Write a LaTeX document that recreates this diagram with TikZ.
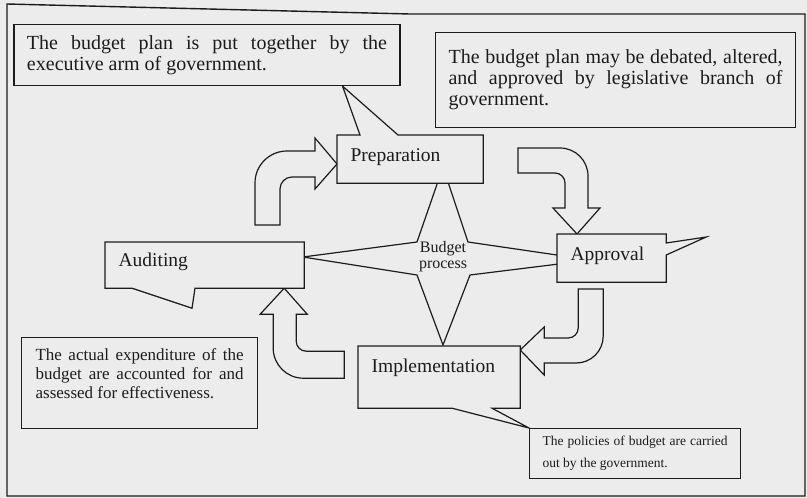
\documentclass[tikz,border=0pt]{standalone}
\usepackage{fontspec}
\setmainfont{Liberation Serif}
\usetikzlibrary{calc, backgrounds}
\definecolor{PaperGrey}{RGB}{236, 236, 236}
\definecolor{InkBlack}{RGB}{28, 28, 28}
\hyphenpenalty=10000
\exhyphenpenalty=10000
\tolerance=9999

\begin{document}
\begin{tikzpicture}[x=1pt, y=-1pt, color=InkBlack, line width=1.2pt,
    every on background layer/.style={color=InkBlack, line width=1.2pt},
    stage/.style={anchor=north west, inner xsep=13pt, inner ysep=0pt, align=left,
        text height=26pt, text depth=21pt, font={\fontsize{19.5}{21}\selectfont}},
    note/.style={draw=InkBlack, fill=PaperGrey, inner xsep=13pt, inner ysep=8pt},
    blockarrow/.style={fill=PaperGrey, line join=miter}]

    % the four stages of the cycle
    \node[stage, text width=119pt] (prep) at (337,135) {Preparation};
    \node[stage, text width=82pt] (appr) at (557,234) {Approval};
    \node[stage, text width=172pt, text height=24pt] (aud) at (105,242) {Auditing};
    \node[stage, text width=135pt, text depth=35pt] (impl) at (358,346) {Implementation};
    \node[align=center, font={\fontsize{16}{16}\selectfont}] (hub) at (443,257) {Budget\\process};

    % explanations
    \node[note] (planNote) at (207,55) {
        \begin{minipage}[c][45pt][c]{360pt}
            \fontsize{20}{21}\selectfont
            The budget plan is put together by the executive arm of government.
        \end{minipage}
    };
    \node[note, anchor=north west] (approveNote) at (435,32) {
        \begin{minipage}[c][79pt][c]{334pt}
            \fontsize{20}{21}\selectfont
            The budget plan may be debated, altered, and approved by legislative branch of government.
        \end{minipage}
    };
    \node[note, anchor=north west, inner xsep=14pt, inner ysep=11pt] (auditNote) at (21,337) {
        \begin{minipage}[c][69pt][t]{208pt}
            \fontsize{17}{19}\selectfont
            The actual expenditure of the budget are accounted for and assessed for effectiveness.
        \end{minipage}
    };
    \node[note, anchor=north west, inner ysep=5pt] (policyNote) at (529,428) {
        \begin{minipage}[c][40pt][c]{185pt}
            \fontsize{13.5}{22}\selectfont
            The policies of budget are carried out by the government.
        \end{minipage}
    };

    \begin{scope}[on background layer]
        \fill[PaperGrey] (0,0) rectangle (807,498);
        \draw[line width=1.4pt] (7,496) -- (7,4) -- (410,14) -- (805,14) -- (805,496) -- cycle;

        % four-pointed star behind the stages
        \draw[fill=PaperGrey] ($(hub)+(0,-90)$) -- ($(hub)+(25,-15)$) -- ($(hub)+(148,3)$)
            -- ($(hub)+(27,18)$) -- ($(hub)+(0,88)$) -- ($(hub)+(-26,18)$)
            -- ($(hub)+(-140,0)$) -- ($(hub)+(-26,-15)$) -- cycle;

        % bent block arrows, drawn back from their tips
        \coordinate (t1) at ($(prep.north west)+(0,29)$);
        \coordinate (t2) at ($(appr.north west)+(20,0)$);
        \coordinate (t3) at ($(impl.north east)+(0,4)$);
        \coordinate (t4) at ($(aud.south east)+(-20,0)$);
        \draw[blockarrow] (t1) -- ++(-22,25) -- ++(0,-12) -- ++(-23,0)
            .. controls +(-6.6,0) and +(0,-6.6) .. ++(-12,12) -- ++(0,36) -- ++(-25,0) -- ++(0,-42)
            .. controls +(0,-17.7) and +(-17.7,0) .. ++(32,-32) -- ++(28,0) -- ++(0,-13) -- cycle;
        \draw[blockarrow] (t2) -- ++(-24,-26) -- ++(12,0) -- ++(0,-25)
            .. controls +(0,-5.5) and +(5.5,0) .. ++(-10,-10) -- ++(-37,0) -- ++(0,-25) -- ++(42,0)
            .. controls +(15.5,0) and +(0,-15.5) .. ++(28,28) -- ++(0,32) -- ++(12,0) -- cycle;
        \draw[blockarrow] (t3) -- ++(24,-23) -- ++(0,11) -- ++(24,0)
            .. controls +(5.5,0) and +(0,5.5) .. ++(10,-10) -- ++(0,-39) -- ++(25,0) -- ++(0,47)
            .. controls +(0,15) and +(15,0) .. ++(-27,27) -- ++(-32,0) -- ++(0,12) -- cycle;
        \draw[blockarrow] (t4) -- ++(23,26) -- ++(-11,0) -- ++(0,27)
            .. controls +(0,5.5) and +(-5.5,0) .. ++(10,10) -- ++(38,0) -- ++(0,27) -- ++(-41,0)
            .. controls +(-16.5,0) and +(0,16.5) .. ++(-30,-30) -- ++(0,-34) -- ++(-13,0) -- cycle;

        % stage boxes with their callout tails
        \draw[fill=PaperGrey] (prep.south west) -- (prep.north west) -- ($(prep.north west)+(23,0)$)
            -- ($(planNote.south west)!0.85!(planNote.south east)$) -- ($(prep.north west)+(61,0)$)
            -- (prep.north east) -- (prep.south east) -- cycle;
        \draw[fill=PaperGrey] (appr.north west) -- (appr.north east) -- ($(appr.north east)+(0,9)$)
            -- ($(appr.north east)+(40,3)$) -- ($(appr.north east)+(0,21)$)
            -- (appr.south east) -- (appr.south west) -- cycle;
        \draw[fill=PaperGrey] (aud.north west) -- (aud.north east) -- (aud.south east)
            -- ($(aud.south west)+(90,0)$) -- ($(aud.south west)+(87,20)$) -- ($(aud.south west)+(27,0)$)
            -- (aud.south west) -- cycle;
        \draw[fill=PaperGrey] (impl.north west) -- (impl.north east) -- (impl.south east)
            -- ($(impl.south west)+(134,0)$) -- (policyNote.north west) -- ($(impl.south west)+(94,0)$)
            -- (impl.south west) -- cycle;
    \end{scope}
\end{tikzpicture}
\end{document}
